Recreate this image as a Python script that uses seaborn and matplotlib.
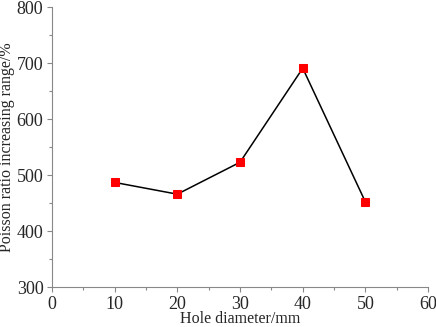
import matplotlib
matplotlib.use("Agg")
import matplotlib.pyplot as plt
import seaborn as sns
import pandas as pd
from matplotlib.ticker import MultipleLocator

# datos
hole_diameter = [10, 20, 30, 40, 50]
poisson_increase = [487, 466, 523, 691, 452]

df = pd.DataFrame({"d": hole_diameter, "v": poisson_increase})

sns.set_style("ticks")
plt.rcParams["font.family"] = ["Liberation Serif", "DejaVu Serif"]

fig = plt.figure(figsize=(4.36, 3.27), dpi=100)
ax = fig.add_axes([0.119, 0.122, 0.863, 0.856])

sns.lineplot(data=df, x="d", y="v", ax=ax, color="black", linewidth=1.1,
             marker="s", markersize=6, markerfacecolor="red",
             markeredgecolor="red")

ax.set_xlim(0, 60)
ax.set_ylim(300, 800)
ax.xaxis.set_major_locator(MultipleLocator(10))
ax.xaxis.set_minor_locator(MultipleLocator(5))
ax.yaxis.set_major_locator(MultipleLocator(100))
ax.yaxis.set_minor_locator(MultipleLocator(50))

for s in ["top", "right"]:
    ax.spines[s].set_visible(False)
for s in ["left", "bottom"]:
    ax.spines[s].set_color("#888888")
    ax.spines[s].set_linewidth(0.8)

ax.tick_params(which="major", length=3.6, width=0.8, color="#888888",
               labelsize=13, pad=2.5)
ax.tick_params(which="minor", length=2.2, width=0.8, color="#888888")

ax.set_xlabel("Hole diameter/mm", fontsize=11.5, labelpad=-1)
ax.set_ylabel("Poisson ratio increasing range/%", fontsize=11.5, labelpad=1)

fig.savefig("out.png", dpi=100)
